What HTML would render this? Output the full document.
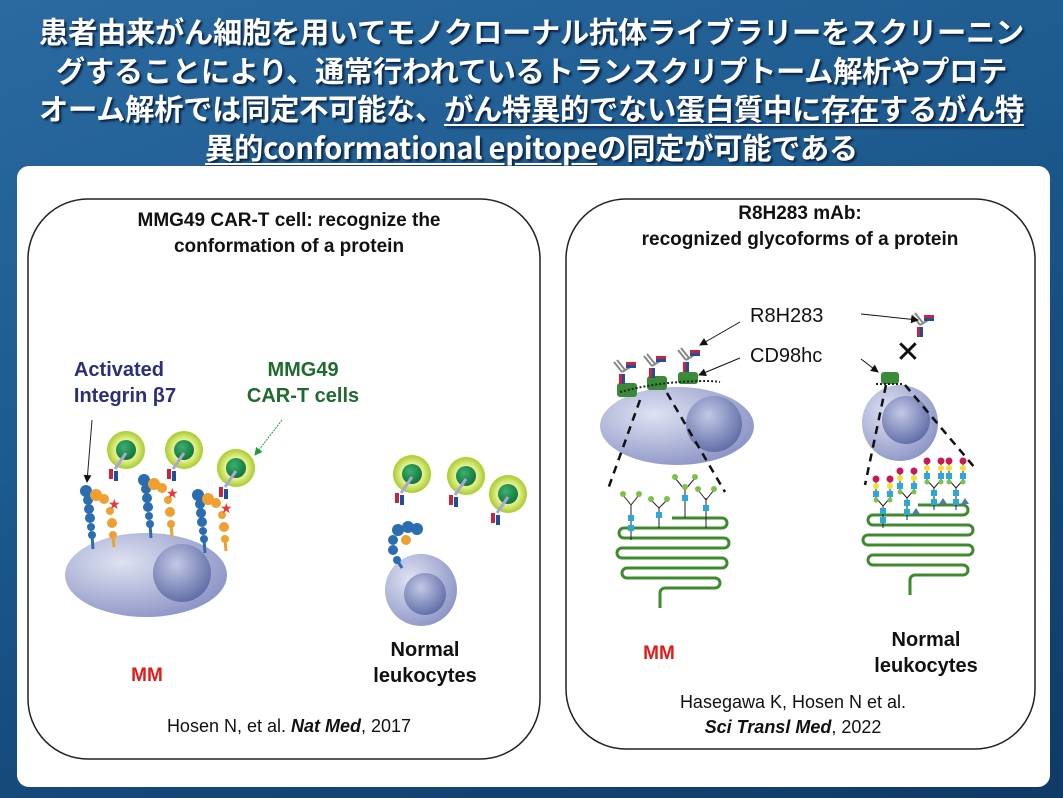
<!DOCTYPE html>
<html><head><meta charset="utf-8"><style>
html,body{margin:0;padding:0;width:1063px;height:798px;overflow:hidden;}
body{background:linear-gradient(160deg,#2a6aa0 0%,#1d5a8e 40%,#144878 70%,#103a66 100%);position:relative;font-family:"Liberation Sans","Noto Sans CJK JP",sans-serif;}
.t{position:absolute;left:0;width:1063px;text-align:center;color:#fff;font-weight:bold;font-size:29.3px;line-height:38.5px;top:12px;text-shadow:2px 2px 2px #0a2040;font-family:"Noto Sans CJK JP","Liberation Sans",sans-serif;letter-spacing:-0.3px;white-space:nowrap}
.u{text-decoration:underline;text-underline-offset:4px}
.panel{position:absolute;left:17px;top:166px;width:1033px;height:621px;background:#fff;border-radius:12px;}
svg{position:absolute;left:0;top:0}
</style></head><body>
<div class="t">患者由来がん細胞を用いてモノクローナル抗体ライブラリーをスクリーニン<br>グすることにより、通常行われているトランスクリプトーム解析やプロテ<br>オーム解析では同定不可能な、<span class="u">がん特異的でない蛋白質中に存在するがん特</span><br><span class="u">異的conformational epitope</span>の同定が可能である</div>
<div class="panel"></div>
<svg width="1063" height="798" viewBox="0 0 1063 798" font-family="Liberation Sans, sans-serif">
<defs>
<radialGradient id="cell" cx="35%" cy="35%" r="70%"><stop offset="0" stop-color="#dfe2f2"/><stop offset="1" stop-color="#8e96c6"/></radialGradient>
<radialGradient id="nuc" cx="40%" cy="35%" r="70%"><stop offset="0" stop-color="#c2c8e6"/><stop offset="1" stop-color="#5d6aa4"/></radialGradient>
<radialGradient id="tc" cx="50%" cy="50%" r="50%"><stop offset="0.5" stop-color="#f0f5a0"/><stop offset="1" stop-color="#a6cc2a"/></radialGradient>
<radialGradient id="tn" cx="40%" cy="35%" r="60%"><stop offset="0" stop-color="#3ab070"/><stop offset="1" stop-color="#157a3e"/></radialGradient>
<marker id="ah" markerWidth="8" markerHeight="8" refX="7" refY="4" orient="auto"><path d="M0,0 L8,4 L0,8z" fill="#111"/></marker>
<marker id="ahg" markerWidth="8" markerHeight="8" refX="7" refY="4" orient="auto"><path d="M0,0 L8,4 L0,8z" fill="#1b9a3a"/></marker>
<g id="tcell"><circle r="19" fill="url(#tc)"/><circle r="10" fill="url(#tn)"/><line x1="0" y1="3" x2="-11" y2="19" stroke="#a9a6d8" stroke-width="3"/><rect x="-17" y="19" width="4" height="10" fill="#c8243a"/><rect x="-12" y="21" width="4" height="10" fill="#1f4f9a"/></g>
<g id="ab"><path d="M0,0 l-8,-10 M3,-2 l-8,-10 M0,0 l10,-6" stroke="#888" stroke-width="2" fill="none"/><rect x="4" y="-10" width="10" height="3" fill="#c8243a"/><rect x="4" y="-7" width="10" height="3" fill="#1f4f9a"/><rect x="-3" y="2" width="3" height="10" fill="#c8243a"/><rect x="0" y="2" width="3" height="10" fill="#1f4f9a"/></g>
<g id="integ"><g fill="#2a6db0"><circle cx="0" cy="0" r="6"/><circle cx="2" cy="9" r="5"/><circle cx="3" cy="18" r="5"/><circle cx="4" cy="27" r="5"/><circle cx="5" cy="36" r="4"/><circle cx="6" cy="44" r="4"/></g><g fill="#f0a030"><circle cx="10" cy="4" r="6"/><circle cx="18" cy="8" r="5"/><circle cx="24" cy="20" r="4"/><circle cx="26" cy="32" r="5"/><circle cx="27" cy="44" r="4"/></g><text x="22" y="18" fill="#e33" font-size="14">★</text><line x1="6" y1="44" x2="7" y2="58" stroke="#2a6db0" stroke-width="3"/><line x1="27" y1="44" x2="28" y2="56" stroke="#f0a030" stroke-width="3"/></g>
<g id="bi"><path d="M0,0 v-22 l-7,-8 v-18 M0,-22 l7,-8 v-18" stroke="#222" stroke-width="1" fill="none"/><rect x="-3" y="-11" width="6" height="6" fill="#2aa8d8"/><rect x="-3" y="-20" width="6" height="6" fill="#2aa8d8"/><circle cx="-7" cy="-28" r="2.5" fill="#7cc24a"/><circle cx="7" cy="-28" r="2.5" fill="#7cc24a"/><rect x="-10" y="-37" width="6" height="6" fill="#2aa8d8"/><rect x="4" y="-37" width="6" height="6" fill="#2aa8d8"/><circle cx="-7" cy="-42" r="3" fill="#f0e030"/><circle cx="7" cy="-42" r="3" fill="#f0e030"/><circle cx="-7" cy="-49" r="3.5" fill="#c8185a"/><circle cx="7" cy="-49" r="3.5" fill="#c8185a"/></g>
</defs>
<rect x="28" y="199" width="512" height="560" rx="60" fill="none" stroke="#222" stroke-width="1.5"/>
<rect x="566" y="199" width="469" height="550" rx="60" fill="none" stroke="#222" stroke-width="1.5"/>
<g font-weight="bold" font-size="19" text-anchor="middle" fill="#111">
<text x="289" y="226">MMG49 CAR-T cell: recognize the</text>
<text x="289" y="252">conformation of a protein</text>
<text x="800" y="219">R8H283 mAb:</text>
<text x="800" y="245">recognized glycoforms of a protein</text>
</g>
<g font-weight="bold" font-size="20" text-anchor="middle">
<text x="119" y="376" fill="#2b2f7a">Activated</text>
<text x="125" y="402" fill="#2b2f7a">Integrin β7</text>
<text x="303" y="376" fill="#1f6b2f">MMG49</text>
<text x="303" y="402" fill="#1f6b2f">CAR-T cells</text>
<text x="147" y="681" fill="#e41a1a" font-size="19">MM</text>
<text x="425" y="656" fill="#111">Normal</text>
<text x="425" y="682" fill="#111">leukocytes</text>
<text x="659" y="659" fill="#e41a1a" font-size="19">MM</text>
<text x="926" y="646" fill="#111">Normal</text>
<text x="926" y="672" fill="#111">leukocytes</text>
</g>
<text x="289" y="732" font-size="18" text-anchor="middle" fill="#111">Hosen N, et al. <tspan font-weight="bold" font-style="italic">Nat Med</tspan>, 2017</text>
<text x="793" y="708" font-size="18" text-anchor="middle" fill="#111">Hasegawa K, Hosen N  et al.</text>
<text x="793" y="733" font-size="18" text-anchor="middle" fill="#111"><tspan font-weight="bold" font-style="italic">Sci Transl Med</tspan>, 2022</text>
<ellipse cx="146" cy="575" rx="81" ry="42" fill="url(#cell)"/>
<circle cx="182" cy="573" r="29" fill="url(#nuc)"/>
<use href="#integ" x="86" y="491"/><use href="#integ" x="144" y="480"/><use href="#integ" x="198" y="495"/>
<use href="#tcell" x="126" y="450"/><use href="#tcell" x="184" y="450"/><use href="#tcell" x="236" y="468"/>
<line x1="92" y1="420" x2="87" y2="482" stroke="#222" stroke-width="1" marker-end="url(#ah)"/>
<line x1="282" y1="420" x2="255" y2="455" stroke="#1b9a3a" stroke-width="1" stroke-dasharray="2,1" marker-end="url(#ahg)"/>
<circle cx="421" cy="590" r="36" fill="url(#cell)"/>
<circle cx="425" cy="594" r="21" fill="url(#nuc)"/>
<g fill="#2a6db0"><circle cx="398" cy="530" r="6"/><circle cx="408" cy="527" r="6"/><circle cx="417" cy="529" r="6"/><circle cx="393" cy="540" r="5"/><circle cx="393" cy="550" r="5"/><circle cx="397" cy="560" r="4"/></g><circle cx="406" cy="540" r="5" fill="#f0a030"/><line x1="397" y1="560" x2="402" y2="568" stroke="#2a6db0" stroke-width="3"/>
<use href="#tcell" x="412" y="474"/><use href="#tcell" x="466" y="476"/><use href="#tcell" x="508" y="494"/>
<ellipse cx="677" cy="426" rx="77" ry="39" fill="url(#cell)"/>
<circle cx="714" cy="424" r="28" fill="url(#nuc)"/>
<circle cx="900" cy="423" r="38" fill="url(#cell)"/>
<circle cx="906" cy="420" r="24" fill="url(#nuc)"/>
<g fill="#3a8a3a"><rect x="617" y="383" width="20" height="14" rx="3"/><rect x="647" y="376" width="20" height="14" rx="3"/><rect x="678" y="372" width="20" height="12" rx="3"/><rect x="881" y="372" width="18" height="12" rx="3"/></g>
<path d="M620,392 q30,-8 60,-10 t40,0 M876,384 h26" stroke="#222" stroke-width="2" stroke-dasharray="2,2" fill="none"/>
<use href="#ab" x="622" y="372"/><use href="#ab" x="652" y="366"/><use href="#ab" x="686" y="360"/><use href="#ab" x="920" y="325"/>
<text x="750" y="322" font-size="20" fill="#111">R8H283</text>
<text x="750" y="362" font-size="20" fill="#111">CD98hc</text>
<line x1="740" y1="322" x2="700" y2="345" stroke="#111" stroke-width="1" marker-end="url(#ah)"/>
<line x1="740" y1="358" x2="699" y2="375" stroke="#111" stroke-width="1" marker-end="url(#ah)"/>
<line x1="861" y1="314" x2="918" y2="320" stroke="#111" stroke-width="1" marker-end="url(#ah)"/>
<line x1="861" y1="359" x2="878" y2="372" stroke="#111" stroke-width="1" marker-end="url(#ah)"/>
<text x="908" y="362" font-size="30" text-anchor="middle" fill="#111">✕</text>
<g stroke="#111" stroke-width="2.5" stroke-dasharray="8,6" fill="none">
<line x1="640" y1="400" x2="607" y2="492"/><line x1="667" y1="393" x2="725" y2="492"/>
<line x1="886" y1="385" x2="865" y2="485"/><line x1="905" y1="385" x2="975" y2="468"/>
</g>
<g stroke="#3f8a2e" stroke-width="3" fill="none">
<path d="M672,518 h50 a5,5 0 0 1 0,10 h-98 a5,5 0 0 0 0,10 h100 a5,5 0 0 1 0,10 h-102 a5,5 0 0 0 0,10 h100 a5,5 0 0 1 0,10 h-95 a5,5 0 0 0 0,10 h88 a5,5 0 0 1 0,10 h-50 a5,5 0 0 0 -5,5 v15"/>
<path d="M918,505 h45 a5,5 0 0 1 0,10 h-90 a5,5 0 0 0 0,10 h95 a5,5 0 0 1 0,10 h-100 a5,5 0 0 0 0,10 h100 a5,5 0 0 1 0,10 h-95 a5,5 0 0 0 0,10 h90 a5,5 0 0 1 0,10 h-48 a5,5 0 0 0 -5,5 v15"/>
</g>
<g stroke="#222" stroke-width="1" fill="none">
<path d="M631,540 v-35 M659,528 v-20 M685,518 v-30 M706,528 v-30 M631,505 l-8,-10 M631,505 l8,-10 M659,508 l-8,-8 M659,508 l8,-8 M685,490 l-10,-12 M685,490 l10,-12 M706,500 l-8,-10 M706,500 l8,-10"/>
</g>
<g fill="#2aa8d8"><rect x="628" y="515" width="6" height="6"/><rect x="628" y="525" width="6" height="6"/><rect x="656" y="512" width="6" height="6"/><rect x="682" y="495" width="6" height="6"/><rect x="703" y="505" width="6" height="6"/></g>
<g fill="#7cc24a"><circle cx="623" cy="494" r="3"/><circle cx="639" cy="494" r="3"/><circle cx="651" cy="499" r="3"/><circle cx="667" cy="499" r="3"/><circle cx="675" cy="477" r="3"/><circle cx="695" cy="477" r="3"/><circle cx="685" cy="487" r="3"/><circle cx="698" cy="489" r="3"/><circle cx="714" cy="489" r="3"/></g>
<use href="#bi" x="883" y="528"/><use href="#bi" x="907" y="520"/><use href="#bi" x="934" y="510"/><use href="#bi" x="956" y="510"/>
<path d="M912,514 l4,-6 4,6z M939,504 l4,-6 4,6z M961,504 l4,-6 4,6z" fill="#4a7ab0"/>
</svg>
</body></html>
